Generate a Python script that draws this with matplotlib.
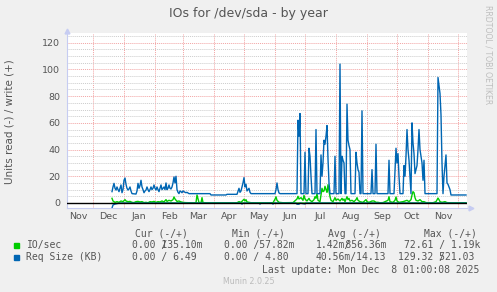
import numpy as np
import matplotlib.pyplot as plt
import matplotlib.dates as mdates
from matplotlib.patches import Rectangle
from matplotlib.ticker import MultipleLocator, NullFormatter

W, H = 497, 292
day0 = np.datetime64('2024-12-01')

# Req Size (KB), write (+), days counted from 2024-12-01
req_days = (list(range(19, 40)) + list(range(43, 97)) +
            [117, 118, 133, 134, 144] + list(range(146, 159)) +
            [182, 183, 184, 185, 186, 187] +
            [204, 205, 206, 207, 208, 211, 212, 213, 215, 216, 217, 218, 219,
             222, 223, 224, 227, 228, 229, 230, 231, 232, 233, 234, 235, 236, 237,
             241, 242, 243, 246, 247, 248, 249, 250, 251, 252, 253, 254, 255, 256,
             257, 258, 262, 263, 264, 265, 266, 267, 268, 269, 270, 278, 279, 280,
             282, 283, 284, 295, 296, 297, 301, 302, 303, 304, 305, 306, 307,
             310, 311, 312, 313, 314, 315, 316, 317, 318, 319, 320, 321, 322, 323,
             324, 325, 326, 327, 328, 329, 330, 331, 332,
             344, 345, 346, 347, 348, 349, 350, 351, 352, 353, 354, 355, 356, 357,
             358, 373])
req_write = ([8.5, 12, 14.7, 11, 9.7, 12, 10, 8.5, 11, 13.5, 7.7, 10, 17, 18.7, 14,
              11, 9.7, 10.5, 12, 9, 7] +
             [6.7, 9, 14.7, 11, 13, 17, 12, 10, 7.7, 9, 9.7, 12, 10, 8.5, 10, 12, 10,
              11, 13.5, 11, 9.7, 12, 10, 8.5, 11, 13.5, 10, 11, 12, 10, 15, 10, 11,
              13.5, 11, 10.5, 12, 15, 19.5, 15, 20, 10, 8, 7, 9, 8.5, 7.7, 9, 8.5, 8,
              7.7, 8, 7.5, 7] +
             [7, 6, 6, 6.5, 6.5] +
             [11, 8, 9, 12, 15, 19, 12, 14, 9, 10, 11, 8, 7] +
             [7, 10, 15, 10, 7.5, 7] +
             [7, 62, 50, 67, 7, 7, 38, 7, 7, 41, 35, 20, 7,
              7, 55, 7, 7, 36, 20, 30, 47, 44, 50, 58, 33, 15, 7,
              7, 35, 7, 7, 104, 7, 35, 32, 30, 7, 7, 74, 47, 43,
              40, 7, 7, 38, 30, 25, 23, 7, 7, 69, 7, 7, 25, 7,
              7, 44, 7, 7, 32, 7, 7, 25, 41, 30, 37, 20, 7,
              7, 28, 20, 35, 55, 40, 32, 20, 7, 60, 45, 37, 22, 25,
              28, 40, 55, 40, 35, 30, 17, 32, 7,
              7, 94, 88, 82, 66, 30, 7, 20, 28, 36, 15, 14, 12, 10,
              6, 6])

# Req Size (KB), read (-)
req_read_days = [19, 20, 22, 25, 28, 60, 148, 149, 150, 166, 167, 168, 179, 180,
                 181, 203, 204, 206, 207, 212, 213, 373]
req_read = [-3.8, -1.5, -0.8, -0.3, -0.1, -0.1, -0.1, -0.8, -0.1, -0.1, -0.8, -0.1,
            -0.1, -0.8, -0.1, -0.1, -0.9, -0.9, -0.1, -0.7, -0.1, -0.1]

# IO/sec, write (+)
io_days = [19, 20, 22, 24, 26, 28, 30, 32, 33, 35,
           37, 39, 41, 43, 45, 47, 49, 51, 53, 55,
           57, 59, 61, 63, 65, 67, 69, 71, 73, 74,
           76, 78, 80, 81, 82, 84, 86, 88, 90, 92,
           95, 100, 103, 104, 105, 106, 108, 109, 110, 115,
           125, 135, 144, 146, 148, 151, 152, 153, 154, 156,
           158, 170, 180, 182, 183, 184, 186, 190, 200, 204,
           205, 206, 208, 210, 211, 212, 214, 216, 217, 219,
           221, 222, 223, 224, 225, 227, 229, 230, 231, 232,
           233, 234, 235, 236, 237, 238, 240, 242, 243, 245,
           247, 249, 250, 251, 252, 254, 255, 256, 257, 259,
           261, 263, 264, 265, 267, 270, 273, 274, 276, 279,
           281, 283, 285, 287, 290, 295, 296, 297, 300, 302,
           303, 304, 306, 310, 312, 314, 316, 318, 319, 320,
           321, 322, 323, 325, 327, 329, 331, 333, 340, 343,
           345, 346, 347, 349, 352, 354, 360, 365, 373]
io_write = [3.5, 1.5, 0.5, 1, 0.5, 1.5, 1, 2.5, 1.5, 1,
            1.2, 0.5, 0.3, 1, 1.2, 0.8, 1, 0.3, 0.5, 0.2,
            1, 0.8, 1.2, 0.5, 1, 0.8, 1.5, 0.8, 2.5, 1.2,
            2, 1.5, 2.5, 4.5, 3, 1.2, 1.5, 0.8, 0.5, 0.3,
            0.2, 0.1, 0.2, 6, 3, 0.3, 0.2, 4, 0.3, 0.1,
            0.1, 0.1, 0.2, 1, 0.5, 2.8, 1.5, 2.5, 0.8, 0.5,
            0.2, 0.1, 0.2, 2.8, 4.6, 2, 0.5, 0.2, 0.3, 3,
            5, 3, 4, 2, 5.7, 3, 1.5, 3.5, 2, 1,
            2.5, 4.7, 3.5, 7, 2, 1, 11, 8.5, 9, 12.5,
            10, 8, 13.7, 9, 4.7, 2, 1, 4, 2, 3,
            1.5, 3.5, 2, 3, 1, 4.7, 2.5, 3.5, 1.5, 2,
            1, 2.5, 4, 2, 1, 0.5, 2.5, 1, 0.5, 1.5,
            1.5, 0.5, 0.5, 0.2, 0.3, 2, 4.7, 1, 0.5, 2,
            4.5, 1.5, 0.5, 1, 1.5, 2, 1, 2.5, 6, 8.5,
            7.7, 4, 2, 1.5, 2.5, 1, 1, 0.3, 0.2, 1,
            3.7, 2.5, 1, 0.5, 1, 0.3, 0.1, 0.1, 0.1]

# IO/sec, read (-)
io_read_days = [19, 40, 100, 200, 300, 373]
io_read = [-0.3, -0.05, -0.02, -0.05, -0.05, -0.02]

legend_names = ['IO/sec', 'Req Size (KB)']
legend_cols = ['Cur (-/+)', 'Min (-/+)', 'Avg (-/+)', 'Max (-/+)']

green = '#00CC00'
blue = '#0066B3'
txt = '#555555'
axcol = '#C6CCF2'


def to_dates(days):
    return day0 + np.array(days, dtype='timedelta64[D]')


def px(x, y):
    return x / W, 1 - y / H


fig = plt.figure(figsize=(W / 100, H / 100), dpi=100, facecolor='#F0F0F0')
ax = fig.add_axes([67 / W, 1 - 208 / H, 400 / W, 175 / H])
ax.set_facecolor('white')

ax.plot(to_dates(io_read_days), io_read, color=green, lw=1.0)
ax.plot(to_dates(io_days), io_write, color=green, lw=1.0)
ax.plot(to_dates(req_read_days), req_read, color=blue, lw=1.0)
ax.plot(to_dates(req_days), req_write, color=blue, lw=1.0)
ax.axhline(0, color='black', lw=1.0, zorder=5)

ax.set_xlim(np.datetime64('2024-11-05'), np.datetime64('2025-12-10'))
ax.set_ylim(-3.75, 127.3)

ax.xaxis.set_major_locator(mdates.MonthLocator())
ax.xaxis.set_major_formatter(NullFormatter())
ax.xaxis.set_minor_locator(mdates.MonthLocator(bymonthday=16))
ax.xaxis.set_minor_formatter(mdates.DateFormatter('%b'))
ax.yaxis.set_major_locator(MultipleLocator(20))
ax.yaxis.set_minor_locator(MultipleLocator(5))
ax.tick_params(which='both', length=0, labelsize=6.8, labelcolor=txt)
ax.tick_params(axis='y', pad=5)
ax.tick_params(axis='x', which='minor', pad=3)

ax.set_axisbelow(True)
ax.grid(which='major', color='#F2A4A4', linestyle=(0, (1, 1)), lw=0.7)
ax.grid(which='minor', axis='y', color='#CCCCCC', linestyle=(0, (1, 1)), lw=0.7)

for s in ['top', 'right']:
    ax.spines[s].set_visible(False)
for s in ['left', 'bottom']:
    ax.spines[s].set_color(axcol)
    ax.spines[s].set_linewidth(0.8)
ax.plot(0, 1.01, marker='^', ms=3.5, color=axcol, transform=ax.transAxes, clip_on=False)
ax.plot(1.01, 0, marker='>', ms=3.5, color=axcol, transform=ax.transAxes, clip_on=False)

fig.text(*px(248.5, 14), 'IOs for /dev/sda - by year', ha='center', va='center',
         fontsize=9, color=txt)
fig.text(*px(10, 122), 'Units read (-) / write (+)', ha='center', va='center',
         rotation=90, fontsize=7.5, color=txt)
fig.text(*px(488, 5), 'RRDTOOL / TOBI OETIKER', ha='center', va='top',
         rotation=270, fontsize=5.6, color='#BEBEBE')

mono = dict(family='DejaVu Sans Mono', fontsize=7, color=txt, ha='left', va='center')
for x, lab in zip([135, 231.7, 328, 424], legend_cols):
    fig.text(*px(x, 234), lab, **mono)

for y, name, col in zip([245.3, 257.3], legend_names, [green, blue]):
    fig.patches.append(Rectangle(px(14, y + 2.3), 5 / W, 5 / H, color=col,
                                 transform=fig.transFigure, figure=fig))
    fig.text(*px(26.5, y), name, **mono)

row1 = [(131.7, ['0.00 /', '     135.10m']), (223.5, ['0.00 /57.82m']),
        (316, ['1.42m/', '     856.36m']), (404.3, ['72.61 / 1.19k'])]
row2 = [(131.7, ['0.00 / 6.49']), (223.5, ['0.00 / 4.80']),
        (316, ['40.56m/14.13']), (398.3, ['129.32 /', '       521.03'])]
for y, row in [(245.3, row1), (257.3, row2)]:
    for x, parts in row:
        for p in parts:
            fig.text(*px(x, y), p, **mono)

fig.text(*px(261.7, 270), 'Last update: Mon Dec  8 01:00:08 2025', **mono)
fig.text(*px(249, 281.3), 'Munin 2.0.25', ha='center', va='center', fontsize=5.7,
         color='#BBBBBB')

fig.savefig('out.png', dpi=100, facecolor=fig.get_facecolor())
